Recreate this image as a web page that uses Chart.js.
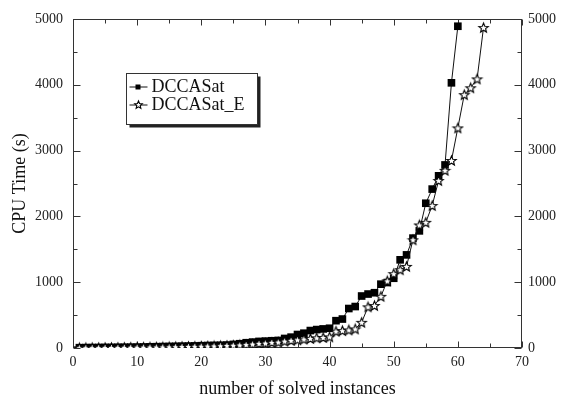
<!DOCTYPE html>
<html>
<head>
<meta charset="utf-8">
<script src="https://cdn.jsdelivr.net/npm/chart.js@4.4.1/dist/chart.umd.min.js"></script>
<style>
  html, body { margin: 0; padding: 0; background: #fff; }
  canvas { display: block; }
</style>
</head>
<body>
<canvas id="cpuChart" width="564" height="398"></canvas>
<script>
// CPU time (s) of each solved instance, sorted ascending
const dccasatTime = [
    5, 6, 7, 8, 9, 10, 11, 12, 13, 14,
    16, 18, 20, 22, 24, 26, 28, 30, 32, 35,
    38, 40, 42, 45, 55, 65, 80, 90, 100, 105,
    110, 115, 145, 165, 205, 225, 265, 280, 290, 300,
    415, 440, 600, 630, 790, 820, 840, 970, 995, 1060,
    1340, 1415, 1670, 1780, 2200, 2415, 2617, 2782, 4030, 4890
];
const dccasatETime = [
    3, 4, 5, 6, 7, 8, 9, 10, 11, 12,
    13, 14, 15, 16, 18, 20, 22, 24, 26, 28,
    30, 32, 35, 38, 42, 46, 52, 60, 70, 75,
    85, 90, 105, 115, 125, 135, 145, 155, 160, 170,
    255, 265, 275, 290, 390, 625, 645, 785, 1020, 1130,
    1190, 1240, 1645, 1870, 1910, 2165, 2545, 2700, 2850, 3345,
    3850, 3955, 4090, 4870
];
const seriesNames = ['DCCASat', 'DCCASat_E'];
const xTicks = [0, 10, 20, 30, 40, 50, 60, 70];
const yTicks = [0, 1000, 2000, 3000, 4000, 5000];
const xMinorStep = 5;
const yMinorStep = 500;

const serif = "'Liberation Serif', 'Times New Roman', Times, serif";

// count of solved instances on x, time on y
const toPoints = arr => arr.map((v, i) => ({ x: i + 1, y: v }));

function makeStar(outer, inner) {
    const size = Math.ceil(outer * 2 + 3);
    const c = document.createElement('canvas');
    c.width = size; c.height = size;
    const g = c.getContext('2d');
    const cx = size / 2, cy = size / 2 + 0.5;
    g.beginPath();
    for (let k = 0; k < 10; k++) {
        const r = k % 2 ? inner : outer;
        const a = -Math.PI / 2 + k * Math.PI / 5;
        g.lineTo(cx + r * Math.cos(a), cy + r * Math.sin(a));
    }
    g.closePath();
    g.fillStyle = '#fff';
    g.fill();
    g.lineWidth = 1.1;
    g.strokeStyle = '#000';
    g.stroke();
    return c;
}

const starMark = makeStar(5, 2.2);
const starSmall = makeStar(4, 1.8);

// box frame plus inward major/minor ticks on all four sides
const frameTicks = {
    id: 'frameTicks',
    beforeDatasetsDraw(chart) {
        const { ctx, chartArea: a, scales: { x, y } } = chart;
        const L = Math.round(a.left) + 0.5, R = Math.round(a.right) - 0.5;
        const T = Math.round(a.top) + 0.5, B = Math.round(a.bottom) - 0.5;
        ctx.save();
        ctx.strokeStyle = '#333';
        ctx.lineWidth = 1;
        ctx.strokeRect(L, T, R - L, B - T);
        ctx.beginPath();
        for (let v = x.min; v <= x.max; v += xMinorStep) {
            const len = xTicks.includes(v) ? 6 : 4;
            const px = Math.round(x.getPixelForValue(v)) + 0.5;
            ctx.moveTo(px, B); ctx.lineTo(px, B - len);
            ctx.moveTo(px, T); ctx.lineTo(px, T + len);
        }
        for (let v = y.min; v <= y.max; v += yMinorStep) {
            const len = yTicks.includes(v) ? 7 : 4;
            const py = Math.round(y.getPixelForValue(v)) + 0.5;
            ctx.moveTo(L, py); ctx.lineTo(L + len, py);
            ctx.moveTo(R, py); ctx.lineTo(R - len, py);
        }
        ctx.stroke();
        ctx.restore();
    }
};

// boxed legend with a drop shadow
const boxLegend = {
    id: 'boxLegend',
    afterDraw(chart) {
        const { ctx } = chart;
        const bx = 126.5, by = 73.5, bw = 131, bh = 51;
        ctx.save();
        ctx.fillStyle = '#222';
        ctx.fillRect(bx + 3, by + 3, bw, bh);
        ctx.fillStyle = '#fff';
        ctx.fillRect(bx, by, bw, bh);
        ctx.strokeStyle = '#333';
        ctx.lineWidth = 1;
        ctx.strokeRect(bx, by, bw, bh);

        const rows = [by + 13, by + 31];
        ctx.strokeStyle = '#111';
        ctx.beginPath();
        rows.forEach(ry => { ctx.moveTo(bx + 3, ry + 0.5); ctx.lineTo(bx + 21, ry + 0.5); });
        ctx.stroke();
        ctx.fillStyle = '#000';
        ctx.fillRect(bx + 9, rows[0] - 2, 5, 5);
        ctx.drawImage(starSmall, bx + 12 - starSmall.width / 2, rows[1] - starSmall.height / 2);

        ctx.font = '18px ' + serif;
        ctx.textBaseline = 'middle';
        ctx.fillStyle = '#111';
        seriesNames.forEach((name, i) => ctx.fillText(name, bx + 25, rows[i] + 1));
        ctx.restore();
    }
};

const tickFont = { family: serif, size: 14 };
const titleFont = { family: serif, size: 18, lineHeight: 1 };
const plainLabel = v => String(v);

new Chart(document.getElementById('cpuChart'), {
    type: 'line',
    data: {
        datasets: [
            {
                label: seriesNames[0],
                data: toPoints(dccasatTime),
                borderColor: '#111',
                borderWidth: 1,
                backgroundColor: '#000',
                pointStyle: 'rect',
                pointRadius: 5.4,
                pointBorderWidth: 0,
                pointBackgroundColor: '#000',
                tension: 0,
                order: 1
            },
            {
                label: seriesNames[1],
                data: toPoints(dccasatETime),
                borderColor: '#111',
                borderWidth: 1,
                pointStyle: starMark,
                pointRadius: 5,
                tension: 0,
                order: 0
            }
        ]
    },
    options: {
        responsive: false,
        animation: false,
        layout: { padding: { top: 19 } },
        plugins: { legend: { display: false }, tooltip: { enabled: false } },
        scales: {
            x: {
                type: 'linear', position: 'bottom', min: 0, max: 70,
                afterBuildTicks: s => { s.ticks = xTicks.map(v => ({ value: v })); },
                ticks: { padding: 6, color: '#222', font: tickFont, maxRotation: 0, callback: plainLabel },
                grid: { display: false, drawTicks: false },
                border: { display: false },
                title: { display: true, text: 'number of solved instances', color: '#111', font: titleFont, padding: { top: 0, bottom: 0 } },
                afterFit: s => { s.height = 50; }
            },
            y: {
                type: 'linear', position: 'left', min: 0, max: 5000,
                afterBuildTicks: s => { s.ticks = yTicks.map(v => ({ value: v })); },
                ticks: { padding: 10, color: '#222', font: tickFont, callback: plainLabel },
                grid: { display: false, drawTicks: false },
                border: { display: false },
                title: { display: true, text: 'CPU Time (s)', color: '#111', font: titleFont, padding: { top: 11, bottom: 0 } },
                afterFit: s => { s.width = 73; }
            },
            y2: {
                type: 'linear', position: 'right', min: 0, max: 5000,
                afterBuildTicks: s => { s.ticks = yTicks.map(v => ({ value: v })); },
                ticks: { padding: 6, color: '#222', font: tickFont, callback: plainLabel },
                grid: { display: false, drawTicks: false },
                border: { display: false },
                afterFit: s => { s.width = 42; }
            }
        }
    },
    plugins: [frameTicks, boxLegend]
});
</script>
</body>
</html>
